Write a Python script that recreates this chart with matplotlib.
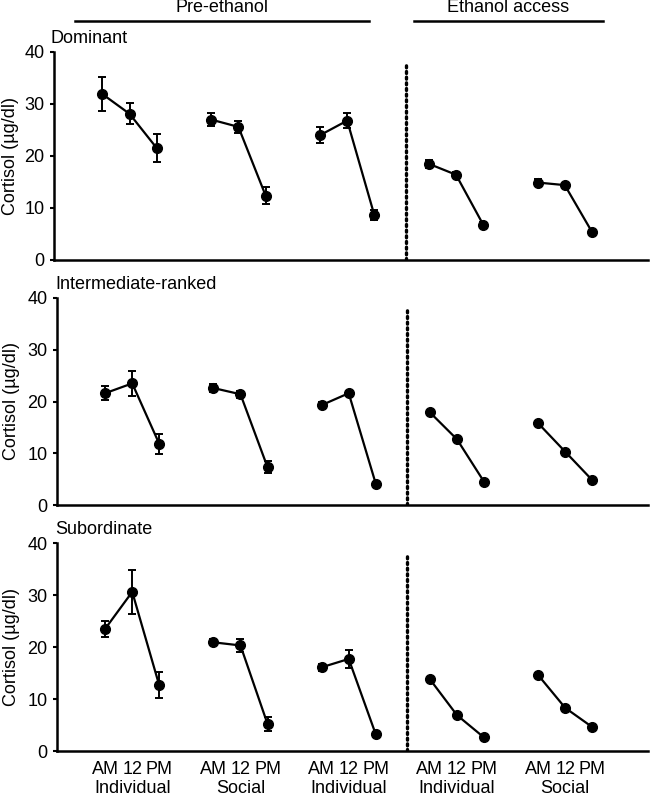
import matplotlib
matplotlib.use("Agg")
import matplotlib.pyplot as plt
from matplotlib.lines import Line2D

plt.rcParams['font.family'] = ['Liberation Sans', 'DejaVu Sans']
plt.rcParams['font.size'] = 13

# 5 groups x 3 sampling times (AM, 12, PM)
times = ["AM", "12", "PM"]
groups = ["Individual", "Social", "Individual", "Individual", "Social"]
ranks = ["Dominant", "Intermediate-ranked", "Subordinate"]

dom_mean = [31.9, 28.1, 21.5, 27.0, 25.6, 12.4, 24.0, 26.8, 8.6,
            18.5, 16.4, 6.8, 14.9, 14.4, 5.4]
dom_sem = [3.3, 2.0, 2.7, 1.2, 1.1, 1.6, 1.5, 1.5, 1.0,
           0.8, 0.5, 0.6, 0.6, 0.4, 0.4]
int_mean = [21.6, 23.5, 11.8, 22.6, 21.4, 7.3, 19.3, 21.6, 4.1,
            17.9, 12.7, 4.5, 15.8, 10.3, 4.8]
int_sem = [1.3, 2.4, 2.0, 0.7, 0.7, 1.2, 0.6, 0.5, 0.3,
           0.3, 0.3, 0.3, 0.3, 0.3, 0.3]
sub_mean = [23.5, 30.6, 12.6, 20.9, 20.3, 5.2, 16.1, 17.7, 3.2,
            13.8, 6.9, 2.6, 14.6, 8.3, 4.6]
sub_sem = [1.5, 4.2, 2.5, 0.6, 1.3, 1.4, 0.7, 1.7, 0.5,
           0.4, 0.3, 0.3, 0.3, 0.5, 0.3]

means = [dom_mean, int_mean, sub_mean]
sems = [dom_sem, int_sem, sub_sem]

W, H = 651, 797
fig = plt.figure(figsize=(W / 100, H / 100), dpi=100)

def px_rect(left, top, right, bottom):
    return [left / W, 1 - bottom / H, (right - left) / W, (bottom - top) / H]

boxes = [(54, 52, 648, 260), (57, 298, 648, 505), (57, 543, 648, 751)]
title_x = [51, 55, 55]

for k, box in enumerate(boxes):
    ax = fig.add_axes(px_rect(*box))
    width = box[2] - box[0]
    for g in range(5):
        xs = [g * 4 + i for i in range(3)]
        ys = means[k][g * 3:g * 3 + 3]
        es = sems[k][g * 3:g * 3 + 3]
        ax.errorbar(xs, ys, yerr=es, color='black', marker='o', markersize=7,
                    linewidth=1.6, elinewidth=1.4, capsize=3, capthick=1.4)
    ax.plot([11.15, 11.15], [0, 37.6], color='black', linestyle=(0, (0.6, 1.1)),
            linewidth=2.4, solid_capstyle='round', dash_capstyle='round')
    ax.set_xlim(-1.78, 20.06)
    ax.set_ylim(0, 40)
    ax.set_yticks([0, 10, 20, 30, 40])
    for s in ['top', 'right']:
        ax.spines[s].set_visible(False)
    for s in ['left', 'bottom']:
        ax.spines[s].set_linewidth(1.8)
    ax.tick_params(axis='y', length=3, width=1.5, pad=4)
    ax.set_ylabel("Cortisol (\u00b5g/dl)")
    ax.yaxis.set_label_coords((11 - box[0]) / width, 0.5)
    ax.yaxis.label.set_va('center')
    ax.text((title_x[k] - box[0]) / width, 1.065, ranks[k],
            transform=ax.transAxes, ha='left', va='center')
    if k < 2:
        ax.set_xticks([])
    else:
        ticks = [g * 4 + i for g in range(5) for i in range(3)]
        ax.set_xticks(ticks)
        ax.set_xticklabels(times * 5)
        ax.tick_params(axis='x', length=0, pad=7)
        for g, name in enumerate(groups):
            ax.text(g * 4 + 1, -0.178, name, transform=ax.get_xaxis_transform(),
                    ha='center', va='center')

# header brackets
def header(x0, x1, label):
    y = 1 - 21 / H
    fig.add_artist(Line2D([x0 / W, x1 / W], [y, y], color='black', linewidth=1.8))
    fig.text((x0 + x1) / 2 / W, 1 - 8 / H, label, ha='center', va='center')

header(75, 369, "Pre-ethanol")
header(414, 603, "Ethanol access")

fig.savefig("out.png", dpi=100)
